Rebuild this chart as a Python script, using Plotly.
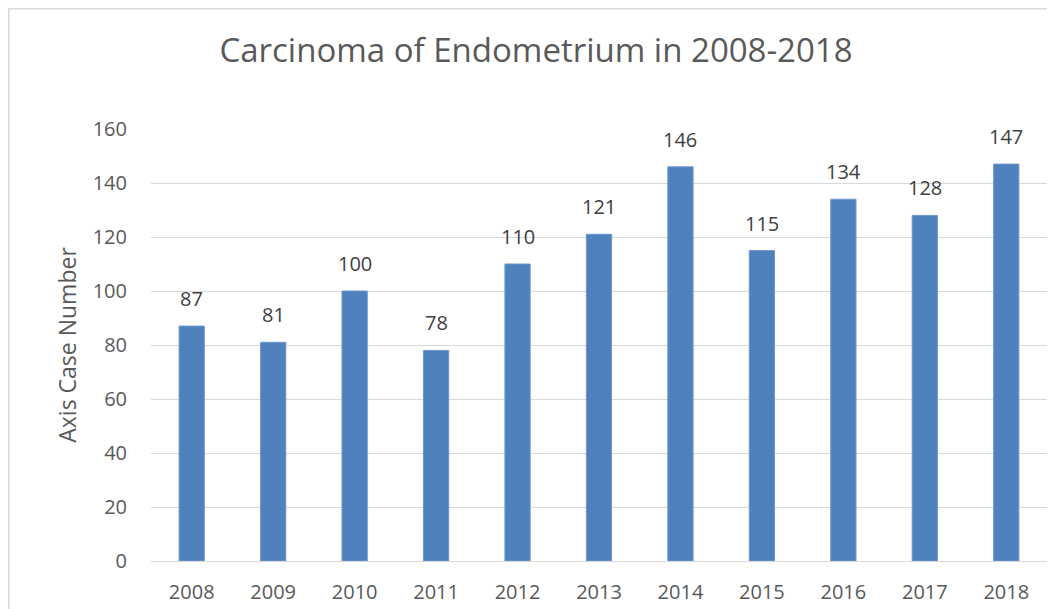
import plotly.graph_objects as go

years = ["2008", "2009", "2010", "2011", "2012", "2013", "2014", "2015", "2016", "2017", "2018"]
cases = [87, 81, 100, 78, 110, 121, 146, 115, 134, 128, 147]
y_ticks = [0, 20, 40, 60, 80, 100, 120, 140, 160]

# the page body adds an 8px offset, so figure coords = screen coords - 8
L, R, T, B = 143, 16, 121, 56
W, H = 1055, 609
pw, ph = W - L - R, H - T - B

font = "Open Sans"

fig = go.Figure(go.Bar(
    x=years, y=cases,
    marker=dict(color="#4F81BD", line=dict(color="#6F96CC", width=1)),
    width=0.31,
))

# value labels: category index positions on the category axis
for i, v in enumerate(cases):
    fig.add_annotation(x=i, y=v, xref="x", yref="y", text=str(v), showarrow=False,
                       xanchor="center", yanchor="bottom", yshift=12,
                       font=dict(family=font, size=20, color="#404040"))

bx = (0 - L) / pw
by = 1 + (T - 0) / ph

fig.update_layout(
    width=W, height=H,
    margin=dict(l=L, r=R, t=T, b=B),
    paper_bgcolor="white", plot_bgcolor="white",
    showlegend=False,
    title=dict(text="Carcinoma of Endometrium in 2008-2018",
               font=dict(family=font, size=33, color="#595959"),
               x=(528 - L) / pw, xref="paper", xanchor="center",
               y=1 - 42 / H, yref="container", yanchor="middle"),
    xaxis=dict(type="category", categoryarray=years,
               tickfont=dict(family=font, size=20, color="#595959"),
               showgrid=False, showline=False, ticks="", ticklabelstandoff=17,
               automargin=False),
    yaxis=dict(range=[0, 160], tickvals=y_ticks,
               tickfont=dict(family=font, size=20, color="#595959"),
               gridcolor="#D9D9D9", gridwidth=1, zeroline=True,
               zerolinecolor="#D9D9D9", zerolinewidth=1,
               showline=False, ticks="", ticklabelstandoff=23,
               automargin=False,
               title=dict(text="Axis Case Number",
                          font=dict(family=font, size=23, color="#595959"),
                          standoff=9)),
    shapes=[
        dict(type="line", xref="paper", yref="paper",
             x0=bx, x1=bx, y0=-0.2, y1=by,
             line=dict(color="#D9D9D9", width=3)),
        dict(type="line", xref="paper", yref="paper",
             x0=bx, x1=1.05, y0=by, y1=by,
             line=dict(color="#D9D9D9", width=3)),
    ],
)

fig.write_html("out.html")
